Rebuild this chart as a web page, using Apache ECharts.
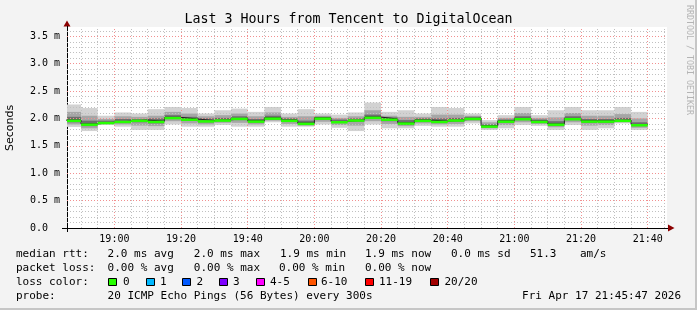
<!DOCTYPE html>
<html><head><meta charset="utf-8">
<script src="https://cdn.jsdelivr.net/npm/echarts@6/dist/echarts.min.js"></script>
<style>html,body{margin:0;padding:0;background:#f3f3f3;}#c{width:697px;height:310px;}</style>
</head><body><div id="c"></div>
<script>
// ---------- DATA ----------
const chartTitle = 'Last 3 Hours from Tencent to DigitalOcean';
const yAxisName = 'Seconds';
const windowStart = '18:45:47';
const windowEnd = '21:45:47';
const xTickLabels = ['19:00','19:20','19:40','20:00','20:20','20:40','21:00','21:20','21:40'];
const yTickValues = [0, 0.5, 1.0, 1.5, 2.0, 2.5, 3.0, 3.5];
const stepTimes = ['18:45','18:50','18:55','19:00','19:05','19:10','19:15','19:20','19:25','19:30','19:35','19:40',
  '19:45','19:50','19:55','20:00','20:05','20:10','20:15','20:20','20:25','20:30','20:35','20:40',
  '20:45','20:50','20:55','21:00','21:05','21:10','21:15','21:20','21:25','21:30','21:35'];
// median rtt (ms)
const medianMs = [1.97,1.90,1.93,1.95,1.97,1.95,2.02,1.99,1.96,1.975,2.005,1.956,
  2.01,1.97,1.915,2.01,1.945,1.975,2.025,1.99,1.92,1.97,1.95,1.975,
  2.005,1.865,1.955,2.00,1.95,1.90,2.00,1.956,1.956,1.97,1.89];
// smoke: outer (lightest) band
const smokeHigh = [2.255,2.19,2.05,2.11,2.09,2.17,2.21,2.19,2.09,2.15,2.18,2.12,
  2.21,2.09,2.17,2.09,2.07,2.11,2.29,2.12,2.15,2.09,2.21,2.19,
  2.09,1.97,2.06,2.21,2.06,2.15,2.21,2.15,2.15,2.21,2.12];
const smokeLow = [1.846,1.77,1.88,1.85,1.79,1.79,1.89,1.85,1.85,1.88,1.85,1.85,
  1.93,1.85,1.85,1.89,1.83,1.77,1.89,1.82,1.82,1.865,1.85,1.85,
  1.91,1.79,1.82,1.88,1.865,1.79,1.88,1.79,1.82,1.91,1.79];
// smoke: middle band
const smokeMidHigh = [2.12,2.05,1.99,2.04,2.03,2.05,2.12,2.09,2.04,2.06,2.09,2.04,
  2.11,2.03,2.04,2.05,2.01,2.04,2.15,2.05,2.03,2.03,2.07,2.07,
  2.05,1.93,2.01,2.10,2.01,2.02,2.10,2.05,2.05,2.08,2.00];
const smokeMidLow = [1.89,1.82,1.90,1.89,1.87,1.86,1.95,1.91,1.89,1.92,1.92,1.89,
  1.96,1.90,1.87,1.94,1.88,1.87,1.95,1.90,1.86,1.91,1.89,1.90,
  1.95,1.82,1.88,1.93,1.90,1.84,1.93,1.87,1.88,1.93,1.83];
// smoke: inner (darkest) band
const smokeInHigh = [2.03,1.96,1.96,1.99,1.99,2.00,2.06,2.03,2.00,2.01,2.04,1.99,
  2.05,2.00,1.96,2.03,1.98,2.00,2.07,2.02,1.97,2.00,2.00,2.01,
  2.03,1.89,1.98,2.04,1.98,1.95,2.04,1.99,1.99,2.01,1.93];
const smokeInLow = [1.93,1.86,1.91,1.92,1.93,1.91,1.99,1.96,1.93,1.95,1.97,1.93,
  1.98,1.94,1.89,1.98,1.92,1.94,1.99,1.95,1.89,1.94,1.92,1.94,
  1.98,1.84,1.92,1.97,1.92,1.87,1.97,1.92,1.92,1.95,1.86];
const rttStats = ['2.0 ms avg','2.0 ms max','1.9 ms min','1.9 ms now','0.0 ms sd','51.3','am/s'];
const lossStats = ['0.00 % avg','0.00 % max','0.00 % min','0.00 % now'];
const lossLabels = ['0','1','2','3','4-5','6-10','11-19','20/20'];
const lossColors = ['#26ff00','#00b8ff','#0059ff','#7e00ff','#ff00ff','#ff5500','#ff0000','#a10000'];
const rowTitles = ['median rtt:','packet loss:','loss color:','probe:'];
const probeText = '20 ICMP Echo Pings (56 Bytes) every 300s';
const dateText = 'Fri Apr 17 21:45:47 2026';
const sideText = 'RRDTOOL / TOBI OETIKER';

// ---------- BUILD ----------
const STEP = 5;
const toMin = s => { const p = s.split(':').map(Number); return p[0]*60 + p[1] + (p[2]||0)/60; };
const xMin = toMin(windowStart), xMax = toMin(windowEnd);
const tickMins = xTickLabels.map(toMin);
const fmtTime = v => { const h = Math.floor(v/60), m = Math.round(v - h*60); return h + ':' + String(m).padStart(2,'0'); };
const starts = stepTimes.map(toMin);
const band = (lo, hi) => starts.map((t,i) => [t, t+STEP, lo[i], hi[i]]);
const medLine = starts.map((t,i) => [t, medianMs[i]]).concat([[starts[starts.length-1]+STEP, medianMs[medianMs.length-1]]]);
const medRects = starts.map((t,i) => [t, t+STEP, medianMs[i]]);

const MONO = '"DejaVu Sans Mono"';
function bandSeries(data, color, z) {
  return { type:'custom', data, z, clip:true, silent:true, animation:false,
    encode:{x:[0,1], y:[2,3]},
    renderItem:(params, api) => {
      const a = api.coord([api.value(0), api.value(3)]);
      const b = api.coord([api.value(1), api.value(2)]);
      return {type:'rect', shape:{x:a[0], y:a[1], width:b[0]-a[0], height:b[1]-a[1]}, style:{fill:color}};
    }};
}

// grid lines
const gridLines = [];
const minorX = {color:'#c0c0c0', width:1, type:[1,2]};
const majorX = {color:'#f29090', width:1, type:[1,2]};
for (let t = Math.ceil(xMin/STEP)*STEP; t < xMax; t += STEP) {
  gridLines.push({xAxis:t, lineStyle: (t % 20 === 0) ? majorX : minorX});
}
for (let k = 1; k <= 36; k++) {
  gridLines.push({yAxis:k/10, lineStyle: (k % 5 === 0) ? majorX : minorX});
}

const graphics = [];
graphics.push({type:'rect', silent:true, shape:{x:695, y:0, width:2, height:310}, style:{fill:'#c6c6c6'}});
graphics.push({type:'rect', silent:true, shape:{x:0, y:308, width:697, height:2}, style:{fill:'#c6c6c6'}});
graphics.push({type:'text', x:348.5, y:19.5, style:{text:chartTitle, font:'13.3px '+MONO, fill:'#000', align:'center', verticalAlign:'middle'}});
graphics.push({type:'text', x:10, y:128, rotation:Math.PI/2, style:{text:yAxisName, font:'11px "DejaVu Sans"', fill:'#000', align:'center', verticalAlign:'middle'}});
graphics.push({type:'text', x:689, y:5, rotation:-Math.PI/2, style:{text:sideText, font:'8.3px '+MONO, fill:'#b4b4b4', align:'left', verticalAlign:'middle'}});
// axis arrows
graphics.push({type:'polygon', silent:true, shape:{points:[[63.5,26.5],[70.5,26.5],[67,20.5]]}, style:{fill:'#8b0000'}});
graphics.push({type:'polygon', silent:true, shape:{points:[[668,224.5],[668,231.5],[674.5,228]]}, style:{fill:'#8b0000'}});
graphics.push({type:'line', silent:true, shape:{x1:62, y1:228.5, x2:668, y2:228.5}, style:{stroke:'#000', lineWidth:1}});
graphics.push({type:'line', silent:true, shape:{x1:67.5, y1:26, x2:67.5, y2:232}, style:{stroke:'#000', lineWidth:1}});
// legend rows
const rowY = [254, 268, 282, 296];
const txt = (s, x, y, align) => ({type:'text', x, y, style:{text:s, font:'11px '+MONO, fill:'#000', align:align||'left', verticalAlign:'middle'}});
rowTitles.forEach((s,i) => graphics.push(txt(s, 16, rowY[i])));
const rttX = [107.6,193.8,280,365,451,530,580];
rttStats.forEach((s,i) => graphics.push(txt(s, rttX[i], rowY[0])));
const lossX = [107.6,193.8,279,365];
lossStats.forEach((s,i) => graphics.push(txt(s, lossX[i], rowY[1])));
const boxX = [108,145.8,182,219,256.4,307.6,365,430];
const lblX = [123,160,196.4,233,270,321,379,444.4];
lossLabels.forEach((s,i) => {
  graphics.push({type:'rect', shape:{x:Math.round(boxX[i])+0.5, y:278.5, width:8, height:7}, style:{fill:lossColors[i], stroke:'#000', lineWidth:1}});
  graphics.push(txt(s, lblX[i], rowY[2]));
});
graphics.push(txt(probeText, 107.6, rowY[3]));
graphics.push(txt(dateText, 681, rowY[3], 'right'));

const option = {
  backgroundColor:'#f3f3f3',
  animation:false,
  grid:{left:67, top:27, width:600, height:201, show:true, backgroundColor:'#ffffff', borderWidth:0},
  xAxis:{type:'value', min:xMin, max:xMax,
    axisLine:{show:false}, axisTick:{show:false}, splitLine:{show:false},
    axisLabel:{customValues:tickMins, formatter:fmtTime, margin:6, color:'#000', fontFamily:'DejaVu Sans Mono', fontSize:10}},
  yAxis:{type:'value', min:0, max:3.67, interval:0.5,
    axisLine:{show:false}, axisTick:{show:false}, splitLine:{show:false},
    axisLabel:{customValues:yTickValues, formatter:v => v === 0 ? '0.0  ' : v.toFixed(1)+' m', margin:7, color:'#000', fontFamily:'DejaVu Sans Mono', fontSize:10}},
  series:[
    {type:'line', data:medLine, z:1, symbol:'none', lineStyle:{opacity:0}, silent:true,
      markLine:{silent:true, symbol:['none','none'], label:{show:false}, animation:false, data:gridLines}},
    bandSeries(band(smokeLow, smokeHigh), '#d2d2d2', 2),
    bandSeries(band(smokeMidLow, smokeMidHigh), '#a6a6a6', 3),
    bandSeries(band(smokeInLow, smokeInHigh), '#6e6e6e', 4),
    {type:'line', data:medLine, step:'end', z:5, symbol:'none', silent:true, clip:true,
      lineStyle:{color:'#202020', width:1}},
    {type:'custom', data:medRects, z:6, clip:true, silent:true, encode:{x:[0,1], y:2},
      renderItem:(params, api) => {
        const a = api.coord([api.value(0), api.value(2)]);
        const b = api.coord([api.value(1), api.value(2)]);
        return {type:'rect', shape:{x:a[0], y:a[1]-0.5, width:b[0]-a[0], height:2.5}, style:{fill:lossColors[0]}};
      }}
  ],
  graphic:graphics
};
const chart = echarts.init(document.getElementById('c'), null, {renderer:'canvas'});
chart.setOption(option);
</script></body></html>
